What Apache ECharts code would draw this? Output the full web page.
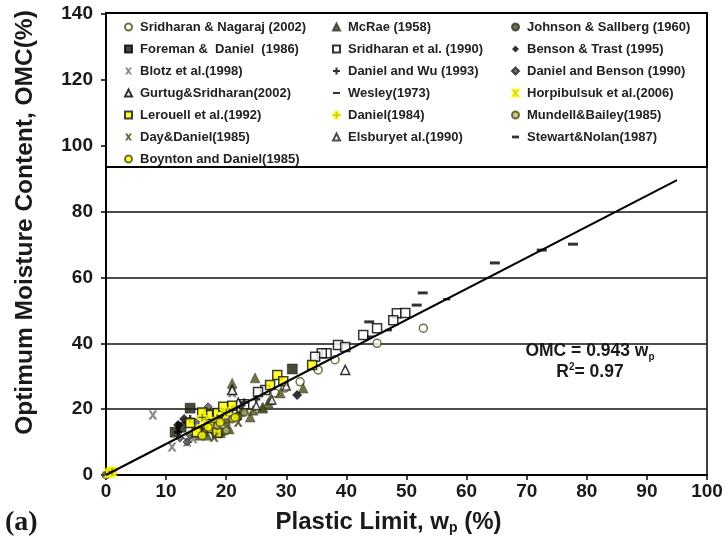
<!DOCTYPE html>
<html>
<head>
<meta charset="utf-8">
<script src="https://cdn.jsdelivr.net/npm/echarts@6/dist/echarts.min.js"></script>
<style>
  html, body { margin: 0; padding: 0; background: #fff; }
  #chart { width: 726px; height: 546px; }
</style>
</head>
<body>
<div id="chart"></div>
<script>
// x = plastic limit wp (%), y = OMC (%)
const sridharanNagaraj = [[52.8,44.6],[45.1,40],[38.1,35],[35.3,31.9],[32.3,28.3],[29.8,26.4],[28.1,24.9],[22.5,19.5],[20,17],[17.5,15]];
const mcRae = [[21,27.9],[24.8,29.5],[29,24.9],[32.8,26.4],[24,17.6],[26.1,20.6],[27.3,22.8],[19,12.8],[16.8,12.1],[15.6,12.1],[21.8,18.2],[24.5,19.7],[26,20.3],[27,21.9],[20.5,14]];
const johnsonSallberg = [[0,0],[18,14],[20,16],[22,18],[19.5,13]];
const foremanDaniel = [[14,20.3],[31,32.2],[12.5,14.5],[11.5,13]];
const sridharanEtAl = [[48.4,49.1],[49.8,49.2],[47.8,47],[45.1,44.6],[42.8,42.5],[38.6,39.5],[39.8,38.9],[36.7,37],[35.9,37],[34.8,35.9],[26.5,25.8],[25.3,25.2],[23,21.5]];
const bensonTrast = [[31.8,24.3],[12,15.2],[22.8,19.1],[13,17]];
const blotz = [[7.8,18.2],[11,8.5],[21,25],[13.5,10],[14.5,11]];
const danielWu = [[12,13],[14,17],[16,14],[21,20],[23,22],[25,23]];
const danielBenson = [[13.5,10],[12.3,11.2],[17,20.7],[15,16],[14,12]];
const gurtug = [[39.8,31.9],[21,25.8],[17,16],[22,22]];
const wesley = [[64.7,64.4],[72.5,68.3],[77.7,70.1],[52.7,55.3],[51.7,51.6],[43.8,46.5]];
const horpibulsuk = [[0.5,0.5],[1,1],[15,14],[17,16]];
const lerouell = [[28.5,30.4],[27.3,27.3],[34.3,33.4],[17,18.2],[18.6,18.8],[19.5,20.7],[14,15.8],[15.1,13],[17.6,14.3],[18.5,12.8],[16,19],[21,21],[29.5,28.5]];
const daniel1984 = [[1,1],[16,17.5],[18,16],[20,19]];
const mundellBailey = [[18.5,15],[21,17],[23,19],[20,13.5]];
const dayDaniel = [[16.5,13],[18,11.5],[22,16],[19,17]];
const elsbury = [[27.6,22.8],[25,21],[30,27]];
const stewartNolan = [[56.7,53.4],[44,42],[47,44]];
const boyntonDaniel = [[17,14.5],[19,16],[21.5,17.5],[16,12]];

const fitSlope = 0.943;
const fitX = [0, 95];

const legendCol1 = ['Sridharan & Nagaraj (2002)', 'Foreman &  Daniel  (1986)', 'Blotz et al.(1998)', 'Gurtug&Sridharan(2002)', 'Lerouell et al.(1992)', 'Day&Daniel(1985)', 'Boynton and Daniel(1985)'];
const legendCol2 = ['McRae (1958)', 'Sridharan et al. (1990)', 'Daniel and Wu (1993)', 'Wesley(1973)', 'Daniel(1984)', 'Elsburyet al.(1990)'];
const legendCol3 = ['Johnson & Sallberg (1960)', 'Benson & Trast (1995)', 'Daniel and Benson (1990)', 'Horpibulsuk et al.(2006)', 'Mundell&Bailey(1985)', 'Stewart&Nolan(1987)'];

const OLIVE = '#4e4e14';
const X_PATH = 'path://M0,0L3,0L5,3L7,0L10,0L6.5,5L10,10L7,10L5,7L3,10L0,10L3.5,5Z';
const PLUS_PATH = 'path://M3.5,0H6.5V3.5H10V6.5H6.5V10H3.5V6.5H0V3.5H3.5Z';
const DASH_PATH = 'path://M0,0H10V3H0Z';

function mk(name, data, symbol, size, style) {
  return {
    name: name,
    type: 'scatter',
    data: data,
    symbol: symbol,
    symbolSize: size,
    itemStyle: style,
    z: 2
  };
}

const chart = echarts.init(document.getElementById('chart'));

const legendText = {
  fontFamily: 'Liberation Sans',
  fontWeight: 'bold',
  fontSize: 13,
  color: '#222',
  lineHeight: 14,
  padding: [0, 0, 0, 3]
};

function legend(left, names) {
  return {
    orient: 'vertical',
    left: left,
    top: 15,
    itemWidth: 7,
    itemHeight: 7,
    itemGap: 8,
    selectedMode: false,
    textStyle: legendText,
    data: names.map(n => {
      if (n === 'Wesley(1973)') return { name: n, icon: DASH_PATH };
      if (n === 'Stewart&Nolan(1987)') return { name: n, icon: 'path://M0,0H10V4H0Z' };
      return n;
    }),
    z: 10
  };
}

const option = {
  animation: false,
  backgroundColor: '#fff',
  grid: {
    left: 106, right: 19, top: 14, bottom: 71,
    show: true, borderColor: '#000', borderWidth: 1.5
  },
  legend: [legend(119, legendCol1), legend(327, legendCol2), legend(506, legendCol3)],
  xAxis: {
    type: 'value', min: 0, max: 100, interval: 10,
    name: '{a|Plastic Limit, w}{s|p}{a| (%)}',
    nameLocation: 'middle', nameGap: 34,
    nameTextStyle: {
      padding: [0, 36, 0, 0],
      rich: {
        a: { fontFamily: 'Liberation Sans', fontWeight: 'bold', fontSize: 24, color: '#1a1a1a' },
        s: { fontFamily: 'Liberation Sans', fontWeight: 'bold', fontSize: 14, color: '#1a1a1a', verticalAlign: 'bottom', padding: [12, 0, 0, 0] }
      }
    },
    axisLine: { show: true, lineStyle: { color: '#000', width: 2 } },
    axisTick: { show: true, inside: false, length: 5, lineStyle: { color: '#000', width: 1.5 } },
    axisLabel: { margin: 7, fontFamily: 'Liberation Sans', fontWeight: 'bold', fontSize: 19, color: '#1a1a1a' },
    splitLine: { show: false }
  },
  yAxis: {
    type: 'value', min: 0, max: 140, interval: 20,
    name: 'Optimum Moisture Content, OMC(%)',
    nameLocation: 'middle', nameGap: 68,
    nameTextStyle: {
      fontFamily: 'Liberation Sans', fontWeight: 'bold', fontSize: 24.5, color: '#1a1a1a',
      padding: [0, 0, 0, 44]
    },
    axisLine: { show: true, lineStyle: { color: '#000', width: 2 } },
    axisTick: { show: true, inside: false, length: 5, lineStyle: { color: '#000', width: 1.5 } },
    axisLabel: { margin: 13, fontFamily: 'Liberation Sans', fontWeight: 'bold', fontSize: 19, color: '#1a1a1a' },
    splitLine: { show: true, lineStyle: { color: '#111', width: 1.5 } }
  },
  graphic: [
    {
      type: 'rect', z: 5,
      shape: { x: 106, y: 13, width: 601, height: 154 },
      style: { fill: '#fff', stroke: '#000', lineWidth: 2 }
    },
    {
      type: 'text', left: 5, top: 509, z: 5,
      style: { text: '(a)', font: 'bold 28px "Liberation Serif"', fill: '#1a1a1a' }
    },
    {
      type: 'text', z: 5, x: 590, y: 362,
      style: {
        text: '{a|OMC = 0.943 w}{s|p}\n{a|R}{u|2}{a|= 0.97}',
        align: 'center', verticalAlign: 'middle',
        rich: {
          a: { font: 'bold 17.5px "Liberation Sans"', fill: '#1a1a1a', lineHeight: 21 },
          s: { font: 'bold 10px "Liberation Sans"', fill: '#1a1a1a', verticalAlign: 'bottom', padding: [7, 0, 0, 0] },
          u: { font: 'bold 10px "Liberation Sans"', fill: '#1a1a1a', verticalAlign: 'top', padding: [0, 0, 7, 0] }
        }
      }
    }
  ],
  series: [
    mk(legendCol1[0], sridharanNagaraj, 'circle', 8, { color: '#fff', borderColor: OLIVE, borderWidth: 1.5 }),
    mk(legendCol2[0], mcRae, 'triangle', 10, { color: OLIVE, borderColor: '#333', borderWidth: 0.5 }),
    mk(legendCol3[0], johnsonSallberg, 'circle', 8, { color: OLIVE, borderColor: '#333', borderWidth: 0.5 }),
    mk(legendCol1[1], foremanDaniel, 'rect', 10, { color: '#1c1c0c', borderColor: '#000', borderWidth: 0.5 }),
    mk(legendCol2[1], sridharanEtAl, 'rect', 9, { color: '#fff', borderColor: '#000', borderWidth: 1.5 }),
    mk(legendCol3[1], bensonTrast, 'diamond', 10, { color: '#000' }),
    mk(legendCol1[2], blotz, X_PATH, 9, { color: '#6a6a6a' }),
    mk(legendCol2[2], danielWu, PLUS_PATH, 8, { color: '#000' }),
    mk(legendCol3[2], danielBenson, 'diamond', 8, { color: '#555', borderColor: '#222', borderWidth: 1 }),
    mk(legendCol1[3], gurtug, 'triangle', 9, { color: '#fff', borderColor: '#000', borderWidth: 1.5 }),
    mk(legendCol2[3], wesley, 'rect', [10, 3], { color: '#000' }),
    mk(legendCol3[3], horpibulsuk, X_PATH, 8, { color: '#222', borderColor: '#ffff00', borderWidth: 2 }),
    mk(legendCol1[4], lerouell, 'rect', 9, { color: '#ffff00', borderColor: '#111', borderWidth: 1.5 }),
    mk(legendCol2[4], daniel1984, PLUS_PATH, 9, { color: '#222', borderColor: '#ffff00', borderWidth: 2 }),
    mk(legendCol3[4], mundellBailey, 'circle', 7, { color: '#b8b880', borderColor: OLIVE, borderWidth: 2 }),
    mk(legendCol1[5], dayDaniel, X_PATH, 9, { color: '#3a3a10' }),
    mk(legendCol2[5], elsbury, 'triangle', 8, { color: '#fff', borderColor: '#222', borderWidth: 1.5 }),
    mk(legendCol3[5], stewartNolan, 'rect', [7, 2.5], { color: '#000' }),
    mk(legendCol1[6], boyntonDaniel, 'circle', 8, { color: '#ffff00', borderColor: OLIVE, borderWidth: 1.5 }),
    {
      name: 'fit',
      type: 'line',
      data: fitX.map(x => [x, +(fitSlope * x).toFixed(2)]),
      symbol: 'none',
      lineStyle: { color: '#000', width: 2 },
      z: 4
    }
  ]
};

chart.setOption(option);
</script>
</body>
</html>
